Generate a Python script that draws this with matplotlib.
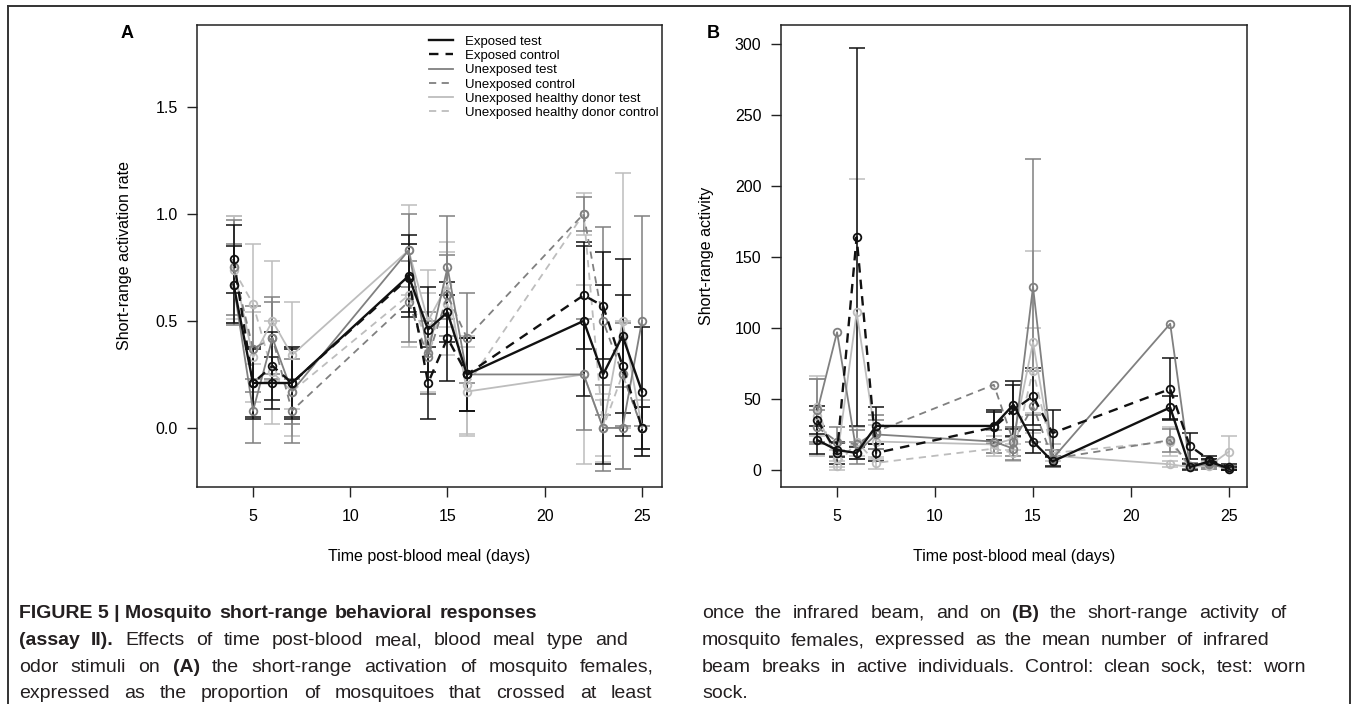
import matplotlib
matplotlib.use("Agg")
import matplotlib.pyplot as plt
from matplotlib.lines import Line2D

# Days post-blood meal (same for both panels)
days = [4, 5, 6, 7, 13, 14, 15, 16, 22, 23, 24, 25]

labels = ["Exposed test", "Exposed control", "Unexposed test", "Unexposed control",
          "Unexposed healthy donor test", "Unexposed healthy donor control"]

# Panel A: short-range activation rate (mean, half error bar)
act_et = [0.67, 0.21, 0.21, 0.21, 0.71, 0.46, 0.54, 0.25, 0.50, 0.25, 0.43, 0.17]
act_ec = [0.79, 0.21, 0.29, 0.21, 0.70, 0.21, 0.42, 0.25, 0.62, 0.57, 0.29, 0.00]
act_ut = [0.67, 0.08, 0.42, 0.17, 0.83, 0.35, 0.75, 0.25, 0.25, 0.00, 0.00, 0.50]
act_uc = [0.75, 0.37, 0.42, 0.08, 0.59, 0.33, 0.62, 0.42, 1.00, 0.50, 0.25, 0.00]
act_ht = [0.75, 0.33, 0.50, 0.34, 0.83, 0.50, 0.67, 0.17, 0.25, 0.00, 0.50, 0.00]
act_hc = [0.74, 0.58, 0.26, 0.17, 0.62, 0.40, 0.58, 0.20, 1.00, 0.00, 0.25, 0.00]

act_et_err = [0.18, 0.16, 0.12, 0.16, 0.19, 0.20, 0.14, 0.17, 0.35, 0.42, 0.36, 0.30]
act_ec_err = [0.16, 0.17, 0.16, 0.17, 0.16, 0.17, 0.20, 0.17, 0.25, 0.25, 0.33, 0.10]
act_ut_err = [0.19, 0.15, 0.17, 0.15, 0.17, 0.19, 0.24, 0.17, 0.26, 0.20, 0.19, 0.49]
act_uc_err = [0.22, 0.20, 0.19, 0.15, 0.19, 0.17, 0.19, 0.21, 0.08, 0.44, 0.24, 0.10]
act_ht_err = [0.24, 0.21, 0.28, 0.25, 0.21, 0.24, 0.20, 0.21, 0.42, 0.13, 0.69, 0.13]
act_hc_err = [0.25, 0.28, 0.24, 0.21, 0.24, 0.23, 0.24, 0.23, 0.10, 0.16, 0.25, 0.13]

# Panel B: short-range activity (mean, half error bar; 0 = no bar drawn)
sra_et = [21, 14, 12, 31, 31, 46, 20, 6, 44, 2, 6, 1]
sra_ec = [35, 12, 164, 12, 30, 42, 52, 26, 57, 17, 7, 2]
sra_ut = [42, 97, 12, 25, 20, 15, 129, 8, 103, 3, 4, 1]
sra_uc = [30, 20, 18, 27, 60, 20, 45, 8, 21, 3, 5, 2]
sra_ht = [38, 8, 111, 20, 18, 22, 90, 10, 4, 2, 3, 13]
sra_hc = [44, 3, 20, 5, 15, 12, 70, 12, 20, 2, 4, 2]

sra_et_err = [10, 5, 4, 13, 10, 17, 8, 3, 8, 2, 2, 1]
sra_ec_err = [10, 8, 133, 6, 12, 18, 20, 16, 22, 9, 3, 2]
sra_ut_err = [22, 0, 8, 10, 8, 8, 90, 6, 0, 2, 3, 1]
sra_uc_err = [12, 10, 10, 12, 0, 10, 25, 6, 8, 2, 3, 1]
sra_ht_err = [28, 6, 94, 12, 6, 8, 64, 8, 2, 1, 2, 11]
sra_hc_err = [20, 3, 10, 4, 5, 6, 30, 6, 10, 1, 2, 1]

# caption lines (\xa0 keeps words together)
cap_left = [
    "FIGURE\xa05\xa0|\xa0Mosquito short-range behavioral responses",
    "(assay II). Effects of time post-blood meal, blood meal type and",
    "odor stimuli on (A) the short-range activation of mosquito females,",
    "expressed as the proportion of mosquitoes that crossed at least",
]
cap_right = [
    "once the infrared beam, and on (B) the short-range activity of",
    "mosquito females, expressed as the mean number of infrared",
    "beam breaks in active individuals. Control: clean sock, test: worn",
    "sock.",
]
bold_words = {"(assay", "II).", "(A)", "(B)"}

W, H = 1357, 704
BLACK, GRAY, LIGHT = "#111111", "#808080", "#bdbdbd"
FONT = "Liberation Sans"
DASH = (0, (4, 3))


def px_box(l, r, t, b):
    return [l / W, 1 - b / H, (r - l) / W, (b - t) / H]


def draw_series(ax, means, errs):
    styles = [(LIGHT, "-", 1.3), (LIGHT, DASH, 1.3),
              (GRAY, "-", 1.3), (GRAY, DASH, 1.3),
              (BLACK, "-", 1.7), (BLACK, DASH, 1.7)]
    for (c, ls, lw), m, e in zip(styles, means, errs):
        keep = [i for i in range(len(days)) if e[i] > 0]
        ax.errorbar([days[i] for i in keep], [m[i] for i in keep],
                    yerr=[e[i] for i in keep], fmt="none", ecolor=c,
                    elinewidth=1.1, capsize=5.5, capthick=1.1, zorder=2)
        ax.plot(days, m, color=c, ls=ls, lw=lw, marker="o", mfc="none",
                mec=c, ms=5.5, mew=1.3, zorder=3)


def style_axes(ax):
    for s in ax.spines.values():
        s.set_color("#222222")
        s.set_linewidth(1.1)
    ax.tick_params(direction="out", length=7, width=1, labelsize=11.5,
                   colors="#222222", labelcolor="black")
    ax.tick_params(axis="y", pad=7)
    ax.tick_params(axis="x", pad=9)
    ax.set_xticks([5, 10, 15, 20, 25])


def text_width(fig, r, s, size, weight):
    t = fig.text(0, 0, s, fontsize=size, fontweight=weight, family=FONT)
    w = t.get_window_extent(renderer=r).width
    t.remove()
    return w


def justify(fig, r, line, x0, x1, y, size, all_bold=False, last=False):
    # y is the text baseline in pixels from the top
    words = line.split(" ")
    weights = ["bold" if (all_bold or w in bold_words) else "normal" for w in words]
    widths = [text_width(fig, r, w, size, wt) for w, wt in zip(words, weights)]
    space = text_width(fig, r, "a a", size, "normal") - text_width(fig, r, "aa", size, "normal")
    if last or len(words) == 1:
        gap = space
    else:
        gap = max(space * 0.6, (x1 - x0 - sum(widths)) / (len(words) - 1))
    x = x0
    for w, wt, wd in zip(words, weights, widths):
        fig.text(x / W, 1 - y / H, w, fontsize=size, fontweight=wt, family=FONT,
                 va="baseline", ha="left", color="#231f20")
        x += wd + gap


def main():
    plt.rcParams["font.family"] = [FONT, "DejaVu Sans"]
    fig = plt.figure(figsize=(W / 100, H / 100), dpi=100)

    # 1. Panel A
    axA = fig.add_axes(px_box(197, 662, 25, 487))
    draw_series(axA, [act_ht, act_hc, act_ut, act_uc, act_et, act_ec],
                [act_ht_err, act_hc_err, act_ut_err, act_uc_err, act_et_err, act_ec_err])
    axA.set_xlim(2.12, 26.03)
    axA.set_ylim(-0.276, 1.883)
    axA.set_yticks([0.0, 0.5, 1.0, 1.5])
    axA.set_yticklabels(["0.0", "0.5", "1.0", "1.5"])
    style_axes(axA)
    axA.set_ylabel("Short-range activation rate", fontsize=11.5)
    axA.yaxis.set_label_coords(-65 / 465, 0.5)
    axA.set_xlabel("Time post-blood meal (days)", fontsize=11.5)
    axA.xaxis.set_label_coords(0.5, -70 / 462)
    axA.xaxis.label.set_va("center")

    handles = [Line2D([], [], color=BLACK, lw=1.7),
               Line2D([], [], color=BLACK, lw=1.7, ls=DASH),
               Line2D([], [], color=GRAY, lw=1.3),
               Line2D([], [], color=GRAY, lw=1.3, ls=DASH),
               Line2D([], [], color=LIGHT, lw=1.3),
               Line2D([], [], color=LIGHT, lw=1.3, ls=DASH)]
    axA.legend(handles, labels, loc="upper left", bbox_to_anchor=(0.499, 0.977),
               frameon=False, fontsize=9.5, handlelength=1.8, handletextpad=0.9,
               labelspacing=0.15, borderaxespad=0, borderpad=0)

    # 2. Panel B
    axB = fig.add_axes(px_box(781, 1247, 25, 487))
    draw_series(axB, [sra_ht, sra_hc, sra_ut, sra_uc, sra_et, sra_ec],
                [sra_ht_err, sra_hc_err, sra_ut_err, sra_uc_err, sra_et_err, sra_ec_err])
    axB.set_xlim(2.14, 25.92)
    axB.set_ylim(-12, 313.4)
    axB.set_yticks([0, 50, 100, 150, 200, 250, 300])
    style_axes(axB)
    axB.set_ylabel("Short-range activity", fontsize=11.5)
    axB.yaxis.set_label_coords(-67 / 466, 0.5)
    axB.set_xlabel("Time post-blood meal (days)", fontsize=11.5)
    axB.xaxis.set_label_coords(0.5, -70 / 462)
    axB.xaxis.label.set_va("center")

    fig.text(127 / W, 1 - 33 / H, "A", fontsize=13, fontweight="bold", ha="center", va="center")
    fig.text(713 / W, 1 - 33 / H, "B", fontsize=13, fontweight="bold", ha="center", va="center")

    # 3. Outer frame (open at the bottom)
    fc = "#333333"
    fig.add_artist(Line2D([8 / W, 8 / W], [0, 1 - 6 / H], transform=fig.transFigure, color=fc, lw=1.4))
    fig.add_artist(Line2D([1350 / W, 1350 / W], [0, 1 - 6 / H], transform=fig.transFigure, color=fc, lw=1.4))
    fig.add_artist(Line2D([8 / W, 1350 / W], [1 - 6 / H, 1 - 6 / H], transform=fig.transFigure, color=fc, lw=1.4))

    # 4. Caption, justified word by word
    r = fig.canvas.get_renderer()
    csize = 14
    baselines = [618, 645, 672, 698]
    left_ends = [537, 628, 654, 652]
    right_ends = [1286, 1269, 1306, 1306]
    for i, line in enumerate(cap_left):
        justify(fig, r, line, 19, left_ends[i], baselines[i], csize, all_bold=(i == 0))
    for i, line in enumerate(cap_right):
        justify(fig, r, line, 702, right_ends[i], baselines[i], csize, last=(i == 3))

    plt.savefig("out.png", dpi=100)


if __name__ == "__main__":
    main()
